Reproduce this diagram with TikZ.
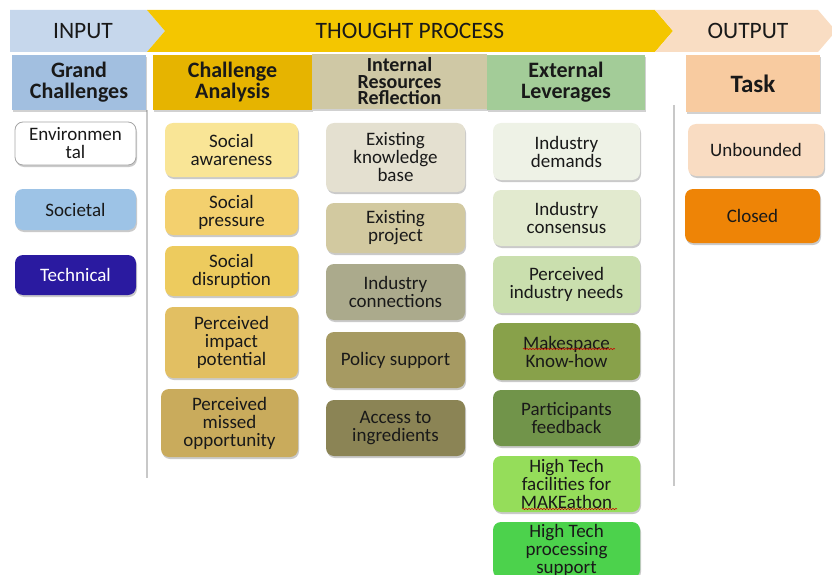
\documentclass[tikz,border=0pt]{standalone}
\usepackage{fontspec}
\setmainfont{Carlito}
\usetikzlibrary{shadows,calc,decorations.pathmorphing}
\definecolor{inhead}{HTML}{C6D7EC}
\definecolor{thhead}{HTML}{F4C600}
\definecolor{outhead}{HTML}{F9DDC3}
\definecolor{gcH}{HTML}{A2BFE0}
\definecolor{caH}{HTML}{E6B400}
\definecolor{irH}{HTML}{CFC8A5}
\definecolor{elH}{HTML}{A3CC98}
\definecolor{tkH}{HTML}{F8CBA0}
\definecolor{cSoc}{HTML}{9DC3E6}
\definecolor{cTech}{HTML}{2A1AA0}
\definecolor{cA1}{HTML}{F9E596}
\definecolor{cA2}{HTML}{F3D06E}
\definecolor{cA3}{HTML}{EDCB5E}
\definecolor{cA4}{HTML}{E2BF62}
\definecolor{cA5}{HTML}{C9AB5C}
\definecolor{cB1}{HTML}{E4E0D0}
\definecolor{cB2}{HTML}{D2C9A0}
\definecolor{cB3}{HTML}{ABAA8C}
\definecolor{cB4}{HTML}{A69A62}
\definecolor{cB5}{HTML}{8B8455}
\definecolor{cC1}{HTML}{EEF2E6}
\definecolor{cC2}{HTML}{E2EACF}
\definecolor{cC3}{HTML}{CADFAE}
\definecolor{cC4}{HTML}{88A14A}
\definecolor{cC5}{HTML}{71944A}
\definecolor{cC6}{HTML}{95DD5A}
\definecolor{cC7}{HTML}{4CD24C}
\definecolor{cUb}{HTML}{F9DCC2}
\definecolor{cCl}{HTML}{EE8406}
\definecolor{sep}{HTML}{C8C8C8}
\tikzset{
  box/.style={rounded corners=8pt, align=center, text=black!90, inner sep=1pt,
    font=\fontsize{19}{18}\selectfont,
    drop shadow={shadow xshift=1pt, shadow yshift=-2pt, opacity=0.35, fill=black!60}},
  head/.style={align=center, text=black!90, inner sep=1pt,
    font=\fontsize{22}{21}\selectfont\bfseries,
    drop shadow={shadow xshift=1pt, shadow yshift=-2pt, opacity=0.3, fill=black!60}},
  bandtext/.style={font=\fontsize{23.5}{23.5}\selectfont, text=black!90},
  sepline/.style={draw=sep, line width=1.6pt},
  squiggle/.style={draw=red!80!black, line width=0.5pt, decorate,
    decoration={snake, amplitude=0.7pt, segment length=3pt}}
}
\begin{document}
\begin{tikzpicture}[x=1pt,y=-1pt]
\useasboundingbox (0,0) rectangle (832,575);
\begin{scope}
\clip (0,0) rectangle (832,575);
% header bands
\fill[inhead] (10,10) -- (147,10) -- (165,31) -- (147,52) -- (10,52) -- cycle;
\fill[thhead] (147,10) -- (655,10) -- (673,31) -- (655,52) -- (147,52) -- (165,31) -- cycle;
\fill[outhead] (655,10) -- (818,10) -- (836,31) -- (818,52) -- (655,52) -- (673,31) -- cycle;
\node[bandtext] (tin) at (83,31) {INPUT};
\node[bandtext] (tth) at (410,31) {THOUGHT PROCESS};
\node[bandtext] (tout) at (748,31) {OUTPUT};

% separators
\coordinate (s1a) at (147,110); \coordinate (s1b) at (147,478);
\coordinate (s2a) at (674,105); \coordinate (s2b) at (674,486);
\draw[sepline] (s1a) -- (s1b);
\draw[sepline] (s2a) -- (s2b);

% column headers
\node[head, fill=gcH, minimum width=134pt, minimum height=55pt] (gc) at (79,82.5) {Grand\\Challenges};
\node[head, fill=caH, minimum width=159pt, minimum height=55pt] (ca) at (232.5,82.5) {Challenge\\Analysis};
\node[head, fill=irH, minimum width=175pt, minimum height=55pt, font=\fontsize{20}{16.5}\selectfont\bfseries] (ir) at (399.5,81.5) {Internal\\Resources\\Reflection};
\node[head, fill=elH, minimum width=158pt, minimum height=55pt] (el) at (566,82.5) {External\\Leverages};
\node[head, fill=tkH, minimum width=134pt, minimum height=57pt, font=\fontsize{25}{25}\selectfont\bfseries] (tk) at (753,83.5) {Task};

% column 1
\node[box, fill=white, draw=black!35, line width=0.8pt, minimum width=121pt, minimum height=43pt] (env) at (75.5,143.5) {Environmen\\tal};
\node[box, fill=cSoc, minimum width=121pt, minimum height=41pt] (soc) at (75.5,209.5) {Societal};
\node[box, fill=cTech, text=white, minimum width=121pt, minimum height=40pt] (tec) at (75.5,275) {Technical};

% column 2
\node[box, fill=cA1, minimum width=133pt, minimum height=54pt] (a1) at (231.5,150) {Social\\awareness};
\node[box, fill=cA2, minimum width=133pt, minimum height=46pt] (a2) at (231.5,212) {Social\\pressure};
\node[box, fill=cA3, minimum width=133pt, minimum height=50pt] (a3) at (231.5,271) {Social\\disruption};
\node[box, fill=cA4, minimum width=133pt, minimum height=71pt] (a4) at (231.5,342.5) {Perceived\\impact\\potential};
\node[box, fill=cA5, minimum width=137pt, minimum height=68pt] (a5) at (229.5,423) {Perceived\\missed\\opportunity};

% column 3
\node[box, fill=cB1, minimum width=139pt, minimum height=69pt] (b1) at (395.5,157.5) {Existing\\knowledge\\base};
\node[box, fill=cB2, minimum width=139pt, minimum height=50pt] (b2) at (395.5,228) {Existing\\project};
\node[box, fill=cB3, minimum width=139pt, minimum height=56pt] (b3) at (395.5,292) {Industry\\connections};
\node[box, fill=cB4, minimum width=139pt, minimum height=56pt] (b4) at (395.5,360) {Policy support};
\node[box, fill=cB5, minimum width=139pt, minimum height=56pt] (b5) at (395.5,428) {Access to\\ingredients};

% column 4
\node[box, fill=cC1, minimum width=147pt, minimum height=57pt] (c1) at (566.5,151.5) {Industry\\demands};
\node[box, fill=cC2, minimum width=147pt, minimum height=56pt] (c2) at (566.5,218) {Industry\\consensus};
\node[box, fill=cC3, minimum width=147pt, minimum height=57pt] (c3) at (566.5,284.5) {Perceived\\industry needs};
\node[box, fill=cC4, minimum width=147pt, minimum height=57pt] (c4) at (566.5,351.5) {Makespace\\Know-how};
\node[box, fill=cC5, minimum width=147pt, minimum height=56pt] (c5) at (566.5,418) {Participants\\feedback};
\node[box, fill=cC6, minimum width=147pt, minimum height=56pt] (c6) at (566.5,484) {High Tech\\facilities for\\MAKEathon};
\node[box, fill=cC7, minimum width=147pt, minimum height=56pt] (c7) at (566.5,550) {High Tech\\processing\\support};

% column 5
\node[box, fill=cUb, minimum width=136pt, minimum height=52pt] (ub) at (756,150) {Unbounded};
\node[box, fill=cCl, minimum width=135pt, minimum height=54pt] (cl) at (752.5,216) {Closed};

% spell-check squiggles
\draw[squiggle] ($(c4.center)+(-43.5,-2.5)$) -- ($(c4.center)+(48.5,-2.5)$);
\draw[squiggle] ($(c6.center)+(-44.5,25)$) -- ($(c6.center)+(50.5,25)$);
\end{scope}
\end{tikzpicture}
\end{document}
